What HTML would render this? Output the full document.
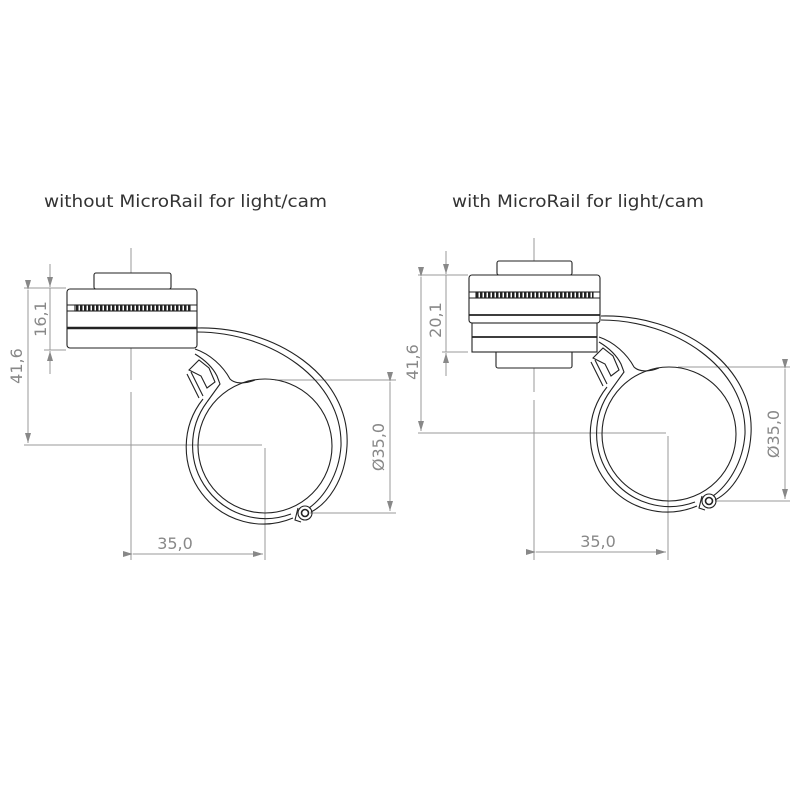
<!DOCTYPE html>
<html><head><meta charset="utf-8"><style>
html,body{margin:0;padding:0;background:#fff;}
svg{display:block}
text{font-family:"DejaVu Sans","Liberation Sans",sans-serif;}
</style></head><body>
<svg width="800" height="800" viewBox="0 0 800 800" xmlns="http://www.w3.org/2000/svg">
<defs>
<marker id="ar" viewBox="0 0 10 6" refX="10" refY="3" markerWidth="10" markerHeight="6" orient="auto" markerUnits="userSpaceOnUse">
<path d="M0,0 L10,3 L0,6 z" fill="#888"/></marker>
<pattern id="kn" width="4" height="6" patternUnits="userSpaceOnUse">
<rect width="4" height="6" fill="#fff"/><rect width="2.5" height="6" fill="#222"/></pattern>
<g id="clamp" fill="none" stroke="#222" stroke-width="1.1">
<circle cx="0" cy="0" r="67"/>
<path d="M-58,-44 A73,73 0 0 0 26,68"/>
<path d="M-62,-47 A77,77 0 0 0 28,72"/>
<path d="M-68,-118 C10,-120 86,-70 82,0 C80,35 62,58 46,66"/>
<path d="M-68,-114 C6,-114 78,-66 76,0 C74,30 58,52 44,62"/>
<path d="M-70,-97 C-55,-92 -42,-80 -35,-67 C-30,-62 -20,-62 -10,-66"/>
<path d="M-70,-92 C-60,-86 -52,-78 -48,-70 L-45,-62 L-58,-44"/>
<path d="M-76,-76 L-66,-86 L-56,-78 L-50,-64 L-58,-58 L-64,-70 Z"/>
<path d="M-78,-72 L-66,-48 M-74,-74 L-62,-50"/>
<circle cx="40" cy="67" r="7"/>
<circle cx="40" cy="67" r="3.5" stroke-width="1.6"/>
<path d="M33,62 L30,74 L36,76"/>
</g>
</defs>

<text x="44" y="207" font-size="17" fill="#333" textLength="283" lengthAdjust="spacingAndGlyphs">without MicroRail for light/cam</text>
<text x="452" y="207" font-size="17" fill="#333" textLength="252" lengthAdjust="spacingAndGlyphs">with MicroRail for light/cam</text>

<!-- LEFT -->
<g stroke="#999" stroke-width="1" fill="none">
<line x1="131" y1="248" x2="131" y2="380"/>
<line x1="131" y1="392" x2="131" y2="560"/>
<line x1="24" y1="445" x2="262" y2="445"/>
<line x1="265" y1="448" x2="265" y2="560"/>
<line x1="24" y1="288" x2="66" y2="288"/>
<line x1="44" y1="350" x2="66" y2="350"/>
<line x1="28" y1="290" x2="28" y2="443" marker-start="url(#ar)" marker-end="url(#ar)"/>
<line x1="50" y1="264" x2="50" y2="287" marker-end="url(#ar)"/>
<line x1="50" y1="374" x2="50" y2="351" marker-end="url(#ar)"/>
<line x1="50" y1="288" x2="50" y2="350"/>
<line x1="133" y1="554" x2="263" y2="554" marker-start="url(#ar)" marker-end="url(#ar)"/>
<line x1="275" y1="380" x2="396" y2="380"/>
<line x1="310" y1="513" x2="396" y2="513"/>
<line x1="390" y1="382" x2="390" y2="511" marker-start="url(#ar)" marker-end="url(#ar)"/>
</g>
<g fill="#888" font-size="16">
<text x="175" y="549" text-anchor="middle">35,0</text>
<text transform="translate(384,447) rotate(-90)" text-anchor="middle">Ø35,0</text>
<text transform="translate(46,319) rotate(-90)" text-anchor="middle">16,1</text>
<text transform="translate(22,366) rotate(-90)" text-anchor="middle">41,6</text>
</g>
<g fill="#fff" stroke="#222" stroke-width="1.1">
<rect x="94" y="273" width="77" height="16" rx="2"/>
<rect x="67" y="289" width="130" height="59" rx="3"/>
<line x1="67" y1="305" x2="197" y2="305"/>
<rect x="75" y="305" width="115" height="6" fill="url(#kn)"/>
<line x1="67" y1="311" x2="197" y2="311"/>
<line x1="67" y1="328" x2="197" y2="328" stroke-width="2.5"/>
</g>
<use href="#clamp" x="265" y="446"/>

<!-- RIGHT -->
<g stroke="#999" stroke-width="1" fill="none">
<line x1="534" y1="238" x2="534" y2="392"/>
<line x1="534" y1="400" x2="534" y2="560"/>
<line x1="418" y1="433" x2="666" y2="433"/>
<line x1="668" y1="436" x2="668" y2="560"/>
<line x1="418" y1="275" x2="468" y2="275"/>
<line x1="442" y1="352" x2="468" y2="352"/>
<line x1="421" y1="277" x2="421" y2="431" marker-start="url(#ar)" marker-end="url(#ar)"/>
<line x1="446" y1="251" x2="446" y2="274" marker-end="url(#ar)"/>
<line x1="446" y1="376" x2="446" y2="353" marker-end="url(#ar)"/>
<line x1="446" y1="275" x2="446" y2="352"/>
<line x1="536" y1="552" x2="666" y2="552" marker-start="url(#ar)" marker-end="url(#ar)"/>
<line x1="678" y1="367" x2="790" y2="367"/>
<line x1="715" y1="501" x2="790" y2="501"/>
<line x1="785" y1="369" x2="785" y2="499" marker-start="url(#ar)" marker-end="url(#ar)"/>
</g>
<g fill="#888" font-size="16">
<text x="598" y="547" text-anchor="middle">35,0</text>
<text transform="translate(779,434) rotate(-90)" text-anchor="middle">Ø35,0</text>
<text transform="translate(441,320) rotate(-90)" text-anchor="middle">20,1</text>
<text transform="translate(418,362) rotate(-90)" text-anchor="middle">41,6</text>
</g>
<g fill="#fff" stroke="#222" stroke-width="1.1">
<rect x="497" y="261" width="75" height="14" rx="2"/>
<rect x="496" y="350" width="76" height="18" rx="2"/>
<rect x="469" y="275" width="131" height="48" rx="3"/>
<rect x="472" y="323" width="125" height="29"/>
<line x1="469" y1="292" x2="600" y2="292"/>
<rect x="476" y="292" width="117" height="6" fill="url(#kn)"/>
<line x1="469" y1="298" x2="600" y2="298"/>
<line x1="469" y1="315" x2="600" y2="315" stroke-width="1.8"/>
<line x1="472" y1="337" x2="597" y2="337" stroke-width="1.8"/>
</g>
<use href="#clamp" x="669" y="434"/>
</svg>
</body></html>
